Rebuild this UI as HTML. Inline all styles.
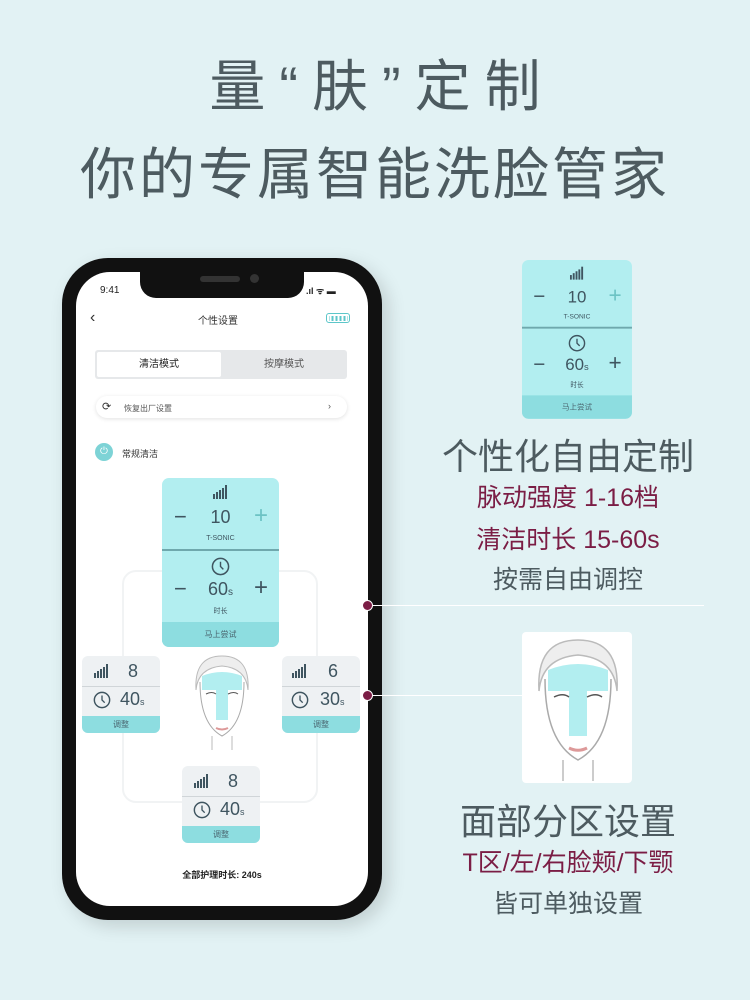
<!DOCTYPE html>
<html><head><meta charset="utf-8"><style>
*{margin:0;padding:0;box-sizing:border-box}
body{width:750px;height:1000px;background:#e2f2f4;position:relative;overflow:hidden;font-family:"Liberation Sans","Noto Sans CJK SC",sans-serif}
.a{position:absolute}
.t{color:#4d5b60;text-align:center;white-space:nowrap}
.r{color:#7b1d45}
.card{position:absolute;width:117px;height:169px;background:#b2eef0;border-radius:7px;overflow:hidden;color:#3f5560;transform-origin:0 0}
.card .band{position:absolute;left:0;right:0;bottom:0;height:25px;background:#8ddde0;font-size:8px;text-align:center;line-height:25px;color:#4a6670}
.card .div{position:absolute;left:0;right:0;top:71px;height:2px;background:#6fa8ad}
.sm{position:absolute;width:78px;height:77px;background:#eef1f3;border-radius:6px;overflow:hidden;color:#3f5560}
.sm .band{position:absolute;left:0;right:0;bottom:0;height:17px;background:#8ddde0;font-size:8px;text-align:center;line-height:17px;color:#4a6670}
.sm .div{position:absolute;left:0;right:0;top:30px;height:1px;background:#d0d5d8}
.num{position:absolute;font-size:18px;font-weight:500}
</style></head><body>
<div class="a t" style="left:7px;top:54px;width:750px;font-size:56px;letter-spacing:14px;line-height:66px">量“肤”定制</div>
<div class="a t" style="left:0;top:142px;width:750px;font-size:56px;letter-spacing:3px;line-height:66px">你的专属智能洗脸管家</div>

<svg width="0" height="0" style="position:absolute"><defs>
<symbol id="bars" viewBox="0 0 16 14"><rect x="0" y="9" width="2" height="5" fill="#3f5560"/><rect x="3" y="7" width="2" height="7" fill="#3f5560"/><rect x="6" y="5" width="2" height="9" fill="#3f5560"/><rect x="9" y="3" width="2" height="11" fill="#3f5560"/><rect x="12" y="0" width="2" height="14" fill="#3f5560"/></symbol>
<symbol id="clk" viewBox="0 0 20 20"><circle cx="10" cy="10" r="8.5" fill="none" stroke="#3f5560" stroke-width="1.6"/><path d="M10 5 L10 10 L13 13" fill="none" stroke="#3f5560" stroke-width="1.5"/></symbol>
</defs></svg>

<!-- phone -->
<div class="a" style="left:62px;top:258px;width:320px;height:662px;background:#111;border-radius:46px;box-shadow:6px 6px 18px rgba(0,0,0,.15)"></div>
<div class="a" style="left:76px;top:272px;width:292px;height:634px;background:#fff;border-radius:34px"></div>
<div class="a" style="left:140px;top:270px;width:164px;height:28px;background:#111;border-radius:0 0 16px 16px"></div>
<div class="a" style="left:200px;top:276px;width:40px;height:6px;background:#333;border-radius:3px"></div>
<div class="a" style="left:250px;top:274px;width:9px;height:9px;background:#333;border-radius:50%"></div>
<div class="a" style="left:100px;top:285px;font-size:10px;color:#222">9:41</div>
<div class="a" style="left:306px;top:284px;font-size:9px;color:#222;font-weight:bold">.ıl ᯤ ▬</div>
<div class="a" style="left:90px;top:309px;font-size:16px;color:#333">‹</div>
<div class="a" style="left:198px;top:312px;font-size:10px;color:#333">个性设置</div>
<div class="a" style="left:326px;top:313px;width:24px;height:10px;border:1.5px solid #5cc6c9;border-radius:3px;background:repeating-linear-gradient(90deg,#5cc6c9 0 2px,#fff 2px 4px);background-clip:content-box;padding:1.5px"></div>
<div class="a" style="left:95px;top:350px;width:252px;height:29px;background:#e6e8ea;border-radius:3px"></div>
<div class="a" style="left:97px;top:352px;width:124px;height:25px;background:#fff;border-radius:2px;font-size:10px;text-align:center;line-height:25px;color:#222">清洁模式</div>
<div class="a" style="left:222px;top:352px;width:124px;height:25px;font-size:10px;text-align:center;line-height:25px;color:#555">按摩模式</div>
<div class="a" style="left:96px;top:396px;width:251px;height:22px;background:#fff;border-radius:11px;box-shadow:0 1px 4px rgba(0,0,0,.12)"></div>
<div class="a" style="left:102px;top:400px;font-size:11px;color:#333">⟳</div>
<div class="a" style="left:124px;top:403px;font-size:8px;color:#555">恢复出厂设置</div>
<div class="a" style="left:328px;top:401px;font-size:9px;color:#555">›</div>
<div class="a" style="left:95px;top:443px;width:18px;height:18px;border-radius:50%;background:#7dd3d6;color:#fff;font-size:10px;text-align:center;line-height:18px">⏻</div>
<div class="a" style="left:122px;top:447px;font-size:9px;color:#333">常规清洁</div>
<div class="a" style="left:122px;top:570px;width:196px;height:233px;border:2px solid #f1f3f4;border-radius:14px"></div>

<!-- big card in phone -->
<div class="card" style="left:162px;top:478px">
 <svg class="a" style="left:51px;top:7px" width="16" height="14"><use href="#bars"/></svg>
 <div class="num" style="left:12px;top:26px;font-size:22px">−</div>
 <div class="num" style="left:0;width:117px;text-align:center;top:29px">10</div>
 <div class="num" style="left:92px;top:24px;font-size:24px;color:#6cc3c4">+</div>
 <div class="a" style="left:0;width:117px;text-align:center;top:57px;font-size:7px">T-SONIC</div>
 <div class="div"></div>
 <svg class="a" style="left:49px;top:79px" width="19" height="19"><use href="#clk"/></svg>
 <div class="num" style="left:12px;top:98px;font-size:22px">−</div>
 <div class="num" style="left:0;width:117px;text-align:center;top:101px">60<span style="font-size:10px">s</span></div>
 <div class="num" style="left:92px;top:96px;font-size:24px">+</div>
 <div class="a" style="left:0;width:117px;text-align:center;top:128px;font-size:7px">时长</div>
 <div class="band">马上尝试</div>
</div>

<!-- small cards -->
<div class="sm" style="left:82px;top:656px"><svg class="a" style="left:12px;top:8px" width="16" height="14"><use href="#bars"/></svg><div class="num" style="left:46px;top:5px">8</div><div class="div"></div><svg class="a" style="left:11px;top:35px" width="18" height="18"><use href="#clk"/></svg><div class="num" style="left:38px;top:33px">40<span style="font-size:9px">s</span></div><div class="band">调整</div></div>
<div class="sm" style="left:282px;top:656px"><svg class="a" style="left:10px;top:8px" width="16" height="14"><use href="#bars"/></svg><div class="num" style="left:46px;top:5px">6</div><div class="div"></div><svg class="a" style="left:9px;top:35px" width="18" height="18"><use href="#clk"/></svg><div class="num" style="left:38px;top:33px">30<span style="font-size:9px">s</span></div><div class="band">调整</div></div>
<div class="sm" style="left:182px;top:766px"><svg class="a" style="left:12px;top:8px" width="16" height="14"><use href="#bars"/></svg><div class="num" style="left:46px;top:5px">8</div><div class="div"></div><svg class="a" style="left:11px;top:35px" width="18" height="18"><use href="#clk"/></svg><div class="num" style="left:38px;top:33px">40<span style="font-size:9px">s</span></div><div class="band">调整</div></div>

<!-- face in phone -->
<svg class="a" style="left:190px;top:654px" width="64" height="96" viewBox="0 0 64 96">
<path d="M6 36 Q4 2 32 2 Q60 2 58 36 Q56 14 32 12 Q8 14 6 36Z" fill="#eee" stroke="#bbb"/>
<path d="M10 28 Q10 70 32 82 Q54 70 54 28" fill="#fff" stroke="#aaa" stroke-width="1"/>
<path d="M12 22 Q32 14 52 22 L52 36 L38 36 L38 66 L26 66 L26 36 L12 36Z" fill="#b2eef0"/>
<path d="M16 40 q6 -3 10 0 M38 40 q6 -3 10 0" stroke="#555" fill="none"/>
<path d="M26 74 q6 3 12 0" stroke="#d99" fill="none" stroke-width="2"/>
<path d="M22 82 L22 96 M42 82 L42 96" stroke="#bbb"/>
</svg>
<div class="a" style="left:0;width:444px;text-align:center;top:868px;font-size:9px;color:#222;font-weight:bold">全部护理时长: 240s</div>

<!-- connectors -->
<div class="a" style="left:368px;top:605px;width:336px;height:1px;background:#fff"></div>
<div class="a" style="left:368px;top:695px;width:156px;height:1px;background:#fff"></div>
<div class="a" style="left:362px;top:600px;width:11px;height:11px;border-radius:50%;background:#7b1d45;border:1.5px solid #fff"></div>
<div class="a" style="left:362px;top:690px;width:11px;height:11px;border-radius:50%;background:#7b1d45;border:1.5px solid #fff"></div>

<!-- right card -->
<div class="card" style="left:522px;top:260px;transform:scale(0.94)">
 <svg class="a" style="left:51px;top:7px" width="16" height="14"><use href="#bars"/></svg>
 <div class="num" style="left:12px;top:26px;font-size:22px">−</div>
 <div class="num" style="left:0;width:117px;text-align:center;top:29px">10</div>
 <div class="num" style="left:92px;top:24px;font-size:24px;color:#6cc3c4">+</div>
 <div class="a" style="left:0;width:117px;text-align:center;top:57px;font-size:7px">T-SONIC</div>
 <div class="div"></div>
 <svg class="a" style="left:49px;top:79px" width="19" height="19"><use href="#clk"/></svg>
 <div class="num" style="left:12px;top:98px;font-size:22px">−</div>
 <div class="num" style="left:0;width:117px;text-align:center;top:101px">60<span style="font-size:10px">s</span></div>
 <div class="num" style="left:92px;top:96px;font-size:24px">+</div>
 <div class="a" style="left:0;width:117px;text-align:center;top:128px;font-size:7px">时长</div>
 <div class="band">马上尝试</div>
</div>

<div class="a t" style="left:430px;width:276px;top:428px;font-size:36px">个性化自由定制</div>
<div class="a t r" style="left:430px;width:276px;top:478px;font-size:25px">脉动强度 1-16档</div>
<div class="a t r" style="left:430px;width:276px;top:520px;font-size:25px">清洁时长 15-60s</div>
<div class="a t" style="left:430px;width:276px;top:560px;font-size:25px">按需自由调控</div>

<div class="a" style="left:522px;top:632px;width:110px;height:151px;background:#fff;border-radius:4px"></div>
<svg class="a" style="left:530px;top:636px" width="96" height="146" viewBox="0 0 64 96">
<path d="M6 36 Q4 2 32 2 Q60 2 58 36 Q56 14 32 12 Q8 14 6 36Z" fill="#eee" stroke="#bbb"/>
<path d="M10 28 Q10 70 32 82 Q54 70 54 28" fill="#fff" stroke="#aaa" stroke-width="1"/>
<path d="M12 22 Q32 14 52 22 L52 36 L38 36 L38 66 L26 66 L26 36 L12 36Z" fill="#b2eef0"/>
<path d="M16 40 q6 -3 10 0 M38 40 q6 -3 10 0" stroke="#555" fill="none"/>
<path d="M26 74 q6 3 12 0" stroke="#d99" fill="none" stroke-width="2"/>
<path d="M22 82 L22 96 M42 82 L42 96" stroke="#bbb"/>
</svg>
<div class="a t" style="left:430px;width:276px;top:793px;font-size:36px">面部分区设置</div>
<div class="a t r" style="left:430px;width:276px;top:843px;font-size:25px">T区/左/右脸颊/下颚</div>
<div class="a t" style="left:430px;width:276px;top:884px;font-size:25px">皆可单独设置</div>
</body></html>
